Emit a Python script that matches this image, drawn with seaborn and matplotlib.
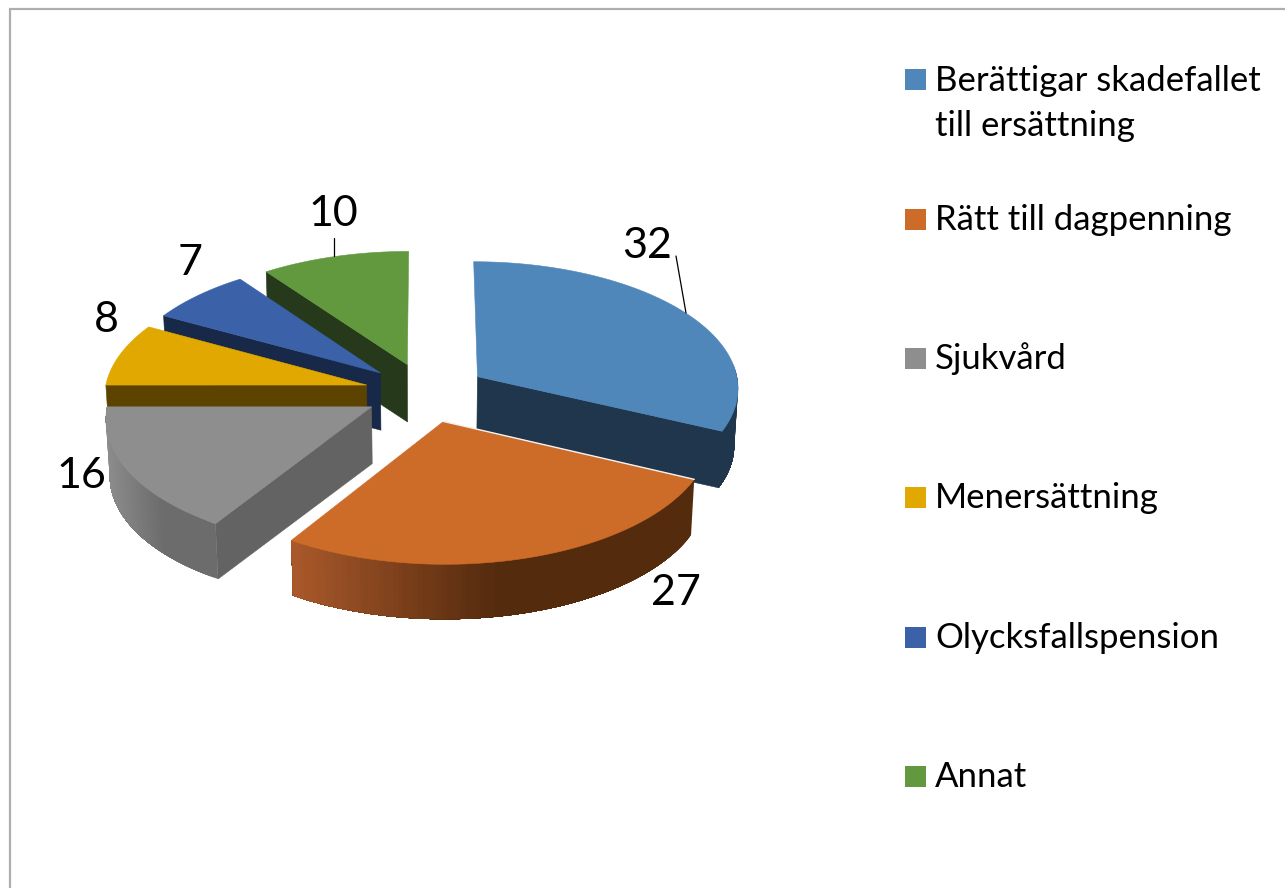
import numpy as np
import matplotlib
matplotlib.use("Agg")
import matplotlib.pyplot as plt
from matplotlib.patches import Polygon, Rectangle
import seaborn as sns

# ---- data -------------------------------------------------------------
categories = ["Berättigar skadefallet\ntill ersättning", "Rätt till dagpenning",
              "Sjukvård", "Menersättning", "Olycksfallspension", "Annat"]
values = [32, 27, 16, 8, 7, 10]
top_colors = ["#4f87ba", "#cd6b28", "#8e8e8e", "#e0a800", "#3b62a9", "#62993f"]
cut_colors = ["#20364d", "#552b0e", "#636363", "#5c4300", "#172848", "#26391a"]
rim_left = ["#20364d", "#a8582a", "#8c8c8c", "#5c4300", "#172848", "#26391a"]
rim_right = ["#20364d", "#552b0e", "#6c6c6c", "#5c4300", "#172848", "#26391a"]

# ---- style and 3-D pie projection parameters ---------------------------
sns.set_theme(style="white")
plt.rcParams["font.family"] = ["Lato", "DejaVu Sans"]

CX, CY = 426.0, 392.4      # pie centre on the canvas
RX, RY = 262.0, 126.5      # ellipse radii
PERSP = 0.08               # perspective strength
EXPLODE = 0.235            # explosion as a share of the radius
DEPTH = 57.0               # thickness of the pie
BOTTOM_SCALE = 0.988       # perspective shrink of the bottom rim

fig = plt.figure(figsize=(12.85, 8.88), dpi=100, facecolor="white")
ax = fig.add_axes([0, 0, 1, 1])
ax.set_xlim(0, 1285)
ax.set_ylim(888, 0)
ax.axis("off")

# chart frame
ax.plot([9.5, 9.5, 1285], [888, 9.5, 9.5], color="#aeaeae", lw=1.6, zorder=1,
        solid_joinstyle="miter")


def project(wx, wy):
    """World position on the pie plane (unit radius, y to the back) to canvas."""
    s = 1.0 / (1.0 + PERSP * wy)
    return CX + RX * wx * s, CY - RY * wy * s


def lower(x, y):
    return (CX + (x - CX) * BOTTOM_SCALE, CY + (y - CY) * BOTTOM_SCALE + DEPTH)


# slice angles derived from the values
fractions = np.array(values, dtype=float) / np.sum(values)
edges = np.concatenate([[0], np.cumsum(fractions)]) * 2 * np.pi

# back slices first, then the front ones
draw_order = [5, 4, 3, 2, 0, 1]
z = 2
for i in draw_order:
    a0, a1 = edges[i], edges[i + 1]
    mid = 0.5 * (a0 + a1)
    ex, ey = EXPLODE * np.sin(mid), EXPLODE * np.cos(mid)
    apex = project(ex, ey)
    apex_low = lower(*apex)

    def rim(theta):
        return project(ex + np.sin(theta), ey + np.cos(theta))

    # cut faces turned towards the viewer
    for ang, visible in ((a0, np.sin(a0) < -1e-6), (a1, np.sin(a1) > 1e-6)):
        if visible:
            ox, oy = rim(ang)
            bx, by = lower(ox, oy)
            ax.add_patch(Polygon([apex, (ox, oy), (bx, by), apex_low],
                                 closed=True, fc=cut_colors[i], ec=cut_colors[i], lw=0.4, zorder=z))
            z += 1

    # outer wall: front half of the rim, shaded left to right by painting
    # overlapping bands so that no seams show between them
    w0, w1 = max(a0, np.pi / 2 - 0.1), min(a1, 3 * np.pi / 2)
    if w1 > w0:
        n = max(8, int((w1 - w0) * 60))
        th = np.linspace(w0, w1, n + 1)
        xs, ys = rim(th)
        bxs, bys = lower(xs, ys)
        pal = sns.blend_palette([rim_left[i], rim_right[i], rim_right[i]], 64)
        span = max(xs.max() - xs.min(), 1)
        for k in range(n):
            t = (0.5 * (xs[k] + xs[k + 1]) - xs.min()) / span
            col = pal[min(63, int(t * 64))]
            up = list(zip(xs[k:], ys[k:]))
            down = list(zip(bxs[k:], bys[k:]))[::-1]
            ax.add_patch(Polygon(up + down, closed=True, fc=col, ec="none", lw=0, zorder=z))
            z += 1

    # top face
    th = np.linspace(a0, a1, 120)
    xs, ys = rim(th)
    pts = [apex] + list(zip(xs, ys))
    ax.add_patch(Polygon(pts, closed=True, fc=top_colors[i], ec=top_colors[i], lw=0.4, zorder=z))
    z += 1
    if i == 1:  # bright highlight along the front slice's back edge
        ox, oy = rim(a0)
        ax.plot([apex[0], ox], [apex[1], oy], color="#f4f4f4", lw=1.0, zorder=z)
        z += 1

# data labels
label_x = [647, 676, 81, 106, 190, 333]
label_y = [258, 605, 488, 332, 275, 226]
zlab = z + 10
for v, lx, ly in zip(values, label_x, label_y):
    ax.text(lx, ly, str(v), fontsize=31, color="black", ha="center", va="baseline", zorder=zlab)

# leader lines
ax.plot([676, 686], [256, 313], color="black", lw=0.9, zorder=zlab)
ax.plot([333.5, 333.5], [238, 256], color="black", lw=0.9, zorder=zlab)

# legend
legend_y = [80, 219, 358, 497, 637, 776]
for name, col, ly in zip(categories, top_colors, legend_y):
    ax.add_patch(Rectangle((905, ly - 10.5), 21, 21, fc=col, ec="none", zorder=zlab))
    for j, line in enumerate(name.split("\n")):
        ax.text(935, ly + 11 + j * 45, line, fontsize=25, color="black",
                ha="left", va="baseline", zorder=zlab)

fig.savefig("out.png", dpi=100, facecolor="white")
